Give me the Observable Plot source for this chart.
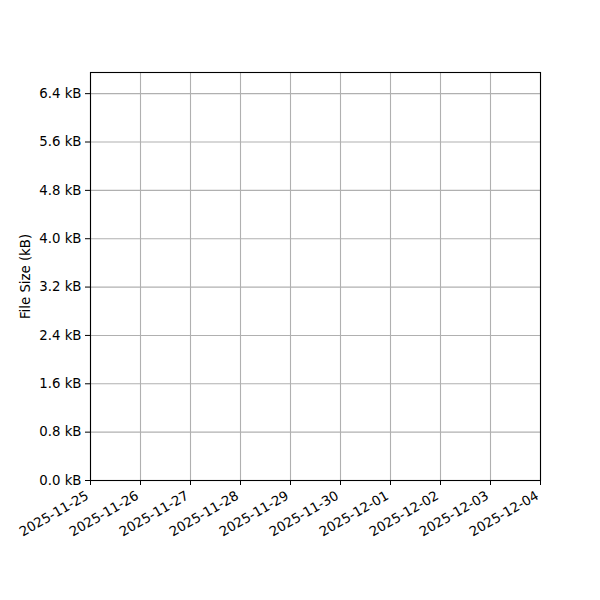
<!DOCTYPE html>
<html>
<head>
<meta charset="utf-8">
<script src="https://cdn.jsdelivr.net/npm/d3@7"></script>
<script src="https://cdn.jsdelivr.net/npm/@observablehq/plot@0.6"></script>
<style>
  html, body { margin: 0; padding: 0; background: white; }
  #chart svg { display: block; }
</style>
</head>
<body>
<div id="chart"></div>
<script>
// Data (the reference chart shows no points)
const dates = [];
const sizes = [];
// Tick labels / values
const xTickLabels = ["2025-11-25","2025-11-26","2025-11-27","2025-11-28","2025-11-29","2025-11-30","2025-12-01","2025-12-02","2025-12-03","2025-12-04"];
const yTickValues = [0, 0.8, 1.6, 2.4, 3.2, 4.0, 4.8, 5.6, 6.4];
const xDomain = ["2025-11-25", "2025-12-04"];
const yDomain = [0, 6.75];

const xTicks = xTickLabels.map(s => new Date(s + "T00:00:00Z"));
const data = dates.map((d, i) => ({date: new Date(d + "T00:00:00Z"), size: sizes[i]}));

const FS = 13.3;
const chart = Plot.plot({
  width: 600,
  height: 600,
  marginLeft: 90,
  marginRight: 60,
  marginTop: 72,
  marginBottom: 120,
  style: {fontFamily: "DejaVu Sans", fontSize: FS + "px", color: "black", background: "white"},
  x: {type: "utc", domain: xDomain.map(s => new Date(s + "T00:00:00Z"))},
  y: {domain: yDomain},
  marks: [
    Plot.gridX(xTicks, {stroke: "#b0b0b0", strokeOpacity: 1, strokeWidth: 1.1}),
    Plot.gridY(yTickValues, {stroke: "#b0b0b0", strokeOpacity: 1, strokeWidth: 1.1}),
    Plot.line(data, {x: "date", y: "size", stroke: "#1f77b4"}),
    Plot.frame({stroke: "black", strokeWidth: 1.1}),
    Plot.axisY({
      ticks: yTickValues,
      tickFormat: d => d.toFixed(1) + " kB",
      tickSize: 5,
      tickPadding: 4,
      fontSize: FS,
      label: "File Size (kB)",
      labelAnchor: "center",
      labelArrow: "none",
      labelOffset: 70
    }),
    // tick lines only
    Plot.axisX({
      ticks: xTicks,
      tickFormat: () => "",
      tickSize: 5,
      label: null
    }),
    // rotated tick labels only
    Plot.axisX({
      ticks: xTicks,
      tickFormat: d => d3.utcFormat("%Y-%m-%d")(d),
      tickSize: 0,
      tickRotate: -30,
      tickPadding: 8,
      dx: -3,
      dy: 6,
      fontSize: FS,
      label: null
    })
  ]
});
document.getElementById("chart").appendChild(chart);
</script>
</body>
</html>
